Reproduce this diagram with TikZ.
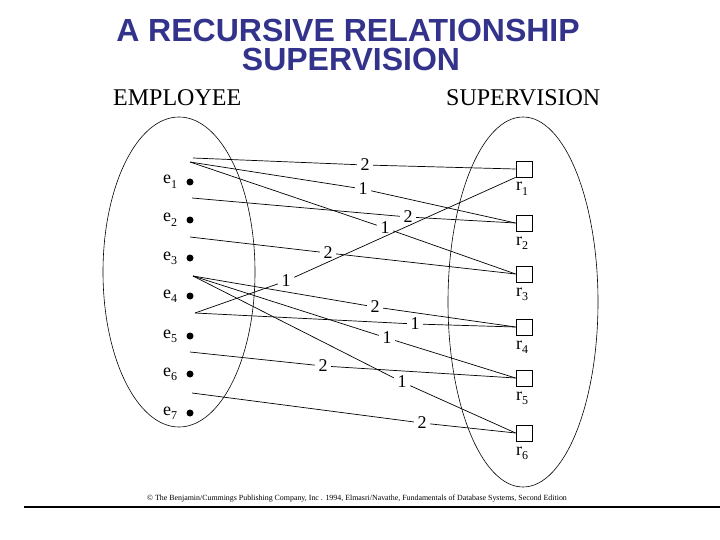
\documentclass[tikz,border=0pt]{standalone}
\usepackage{fontspec}
\setmainfont{Liberation Serif}
\newfontfamily\titlefont{Liberation Sans}
\usetikzlibrary{shapes.geometric}
\definecolor{titleblue}{RGB}{51,51,140}
\newcommand{\lowsub}[1]{\raisebox{-4.5pt}{\fontsize{12}{12}\selectfont #1}}
\begin{document}
\begin{tikzpicture}[x=1pt,y=-1pt,
  dot/.style={circle,fill=black,inner sep=0pt,minimum size=7pt},
  rbox/.style={draw,minimum size=16pt,inner sep=0pt,line width=0.8pt},
  role/.style={font=\fontsize{18}{18}\selectfont,inner xsep=3.5pt,inner ysep=1pt},
  elab/.style={font=\fontsize{18}{18}\selectfont,anchor=base west,inner sep=0pt},
  setell/.style={draw,ellipse,inner sep=0pt,line width=0.6pt},
  link/.style={line width=0.7pt},
  ttl/.style={font=\titlefont\bfseries\fontsize{32}{32}\selectfont,text=titleblue,anchor=base,inner sep=0pt},
  head/.style={font=\fontsize{24}{24}\selectfont,anchor=base west,inner sep=0pt}]
\useasboundingbox (0,0) rectangle (720,540);
% titles
\node[ttl] (t1) at (348,42) {A RECURSIVE RELATIONSHIP};
\node[ttl] (t2) at (351,71) {SUPERVISION};
\node[head] (hemp) at (113,106) {EMPLOYEE};
\node[head] (hsup) at (446,106) {SUPERVISION};
% sets
\node[setell,minimum width=152pt,minimum height=310pt] (empset) at (179,272) {};
\node[setell,minimum width=150pt,minimum height=370pt] (supset) at (523,302) {};
% employees
\foreach \i/\y in {1/182,2/220,3/258,4/296,5/336,6/374,7/413}{
  \node[dot] (e\i) at (190,\y) {};
  \node[elab] (le\i) at (163,\y+2) {e\lowsub{\i}};
}
% relationship instances
\foreach \i/\y in {1/169,2/223,3/274,4/327,5/378,6/433}{
  \node[rbox] (r\i) at (524,\y) {};
  \node[elab] (lr\i) at (516,\y+22) {r\lowsub{\i}};
}
% start points
\coordinate (sA) at (193,158);
\coordinate (s1) at (190,162);
\coordinate (s2) at (192,198);
\coordinate (s3) at (190,237);
\coordinate (s4) at (193,276);
\coordinate (s5) at (195,313);
\coordinate (s6) at (190,352);
\coordinate (s7) at (192,393);
% role labels
\node[role] (lA) at (365,165) {2};
\node[role] (lB) at (363,189) {1};
\node[role] (lC) at (385,228) {1};
\node[role] (lD) at (408,217) {2};
\node[role] (lE) at (286,281) {1};
\node[role] (lF) at (328,253) {2};
\node[role] (lG) at (375,307) {2};
\node[role] (lH) at (387,338) {1};
\node[role] (lI) at (402,382) {1};
\node[role] (lJ) at (415,324) {1};
\node[role] (lK) at (323,366) {2};
\node[role] (lL) at (422,423) {2};
% links
\draw[link] (sA) -- (lA) -- (r1.west);
\draw[link] (s1) -- (lB) -- (r2.west);
\draw[link] (s1) -- (lC) -- (r3.west);
\draw[link] (s2) -- (lD) -- (r2.west);
\draw[link] (s5) -- (lE) -- (r1.south west);
\draw[link] (s3) -- (lF) -- (r3.west);
\draw[link] (s4) -- (lG) -- (r4.west);
\draw[link] (s4) -- (lH) -- (r5.west);
\draw[link] (s4) -- (lI) -- (r6.west);
\draw[link] (s5) -- (lJ) -- (r4.west);
\draw[link] (s6) -- (lK) -- (r5.west);
\draw[link] (s7) -- (lL) -- (r6.west);
% footer
\node[font=\fontsize{7.9}{7.9}\selectfont,inner sep=0pt,anchor=base] (copy) at (357,500) {\textcopyright{} The Benjamin/Cummings Publishing Company, Inc . 1994, Elmasri/Navathe, Fundamentals of Database Systems, Second Edition};
\coordinate (fl) at (24,507);
\coordinate (fr) at (720,507);
\draw[line width=1.4pt] (fl) -- (fr);
\end{tikzpicture}
\end{document}
